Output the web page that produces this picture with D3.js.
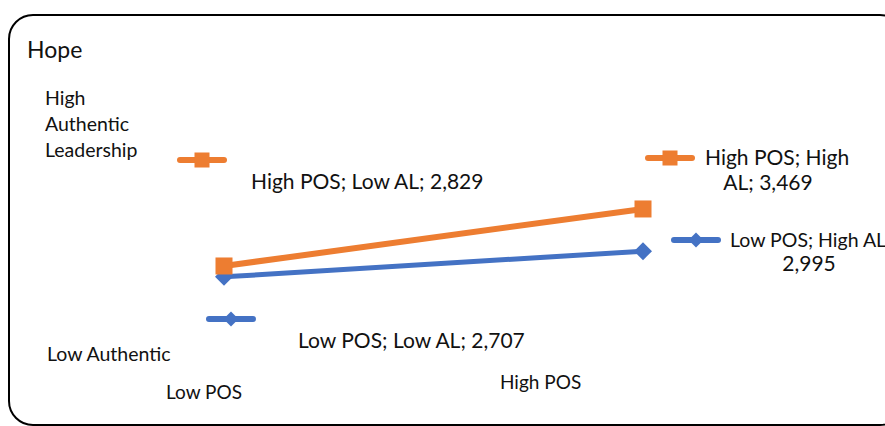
<!DOCTYPE html>
<html>
<head>
<meta charset="utf-8">
<script src="https://cdn.jsdelivr.net/npm/d3@7"></script>
<style>
  html, body { margin: 0; padding: 0; background: #fff; }
  svg { display: block; }
  text { font-family: Lato, "Open Sans", sans-serif; fill: #111; }
</style>
</head>
<body>
<div id="chart"></div>
<script>
// Hope scores by perceived organisational support (POS) and authentic leadership (AL)
const groups = ["Low POS", "High POS"];
const highAL = [2.829, 3.469];   // orange series
const lowAL = [2.707, 2.995];    // blue series
const highALNames = ["High POS; Low AL", "High POS; High AL"];
const lowALNames = ["Low POS; Low AL", "Low POS; High AL"];
const legendHigh = ["High", "Authentic", "Leadership"];
const legendLow = "Low Authentic";
const title = "Hope";

const W = 885, H = 426;
const ORANGE = "#ED7D31", BLUE = "#4472C4";
const fmt = v => d3.format(".3f")(v).replace(".", ",");

const svg = d3.select("#chart").append("svg")
  .attr("width", W).attr("height", H);

// frame
svg.append("rect")
  .attr("x", 9).attr("y", 15).attr("width", 895).attr("height", 410)
  .attr("rx", 24).attr("ry", 24)
  .attr("fill", "#fff").attr("stroke", "#000").attr("stroke-width", 2);

const x = d3.scalePoint().domain(groups).range([224, 643]);
const y = d3.scaleLinear().domain([2.4, 3.6]).range([304.2, 197.3]);

const line = d3.line().x((d, i) => x(groups[i])).y(d => y(d));

const diamond = (s) => `M0,${-s}L${s},0L0,${s}L${-s},0Z`;

// low AL series (drawn first, sits beneath)
svg.append("path").datum(lowAL)
  .attr("d", line).attr("fill", "none")
  .attr("stroke", BLUE).attr("stroke-width", 5);
svg.selectAll(".pt-low").data(lowAL).join("path")
  .attr("class", "pt-low")
  .attr("transform", (d, i) => `translate(${x(groups[i])},${y(d)})`)
  .attr("d", diamond(9)).attr("fill", BLUE);

// high AL series
svg.append("path").datum(highAL)
  .attr("d", line).attr("fill", "none")
  .attr("stroke", ORANGE).attr("stroke-width", 6);
svg.selectAll(".pt-high").data(highAL).join("rect")
  .attr("class", "pt-high")
  .attr("x", (d, i) => x(groups[i]) - 8.5).attr("y", d => y(d) - 8.5)
  .attr("width", 17).attr("height", 17).attr("fill", ORANGE);

// label key glyphs: short line with marker
function keyGlyph(cx, cy, color, shape) {
  const g = svg.append("g").attr("transform", `translate(${cx},${cy})`);
  g.append("line").attr("x1", -22).attr("x2", 22)
    .attr("stroke", color).attr("stroke-width", 6).attr("stroke-linecap", "round");
  if (shape === "square") {
    g.append("rect").attr("x", -7.5).attr("y", -7.5).attr("width", 15).attr("height", 15).attr("fill", color);
  } else {
    g.append("path").attr("d", diamond(7.5)).attr("fill", color);
  }
}

// data labels
keyGlyph(202, 160, ORANGE, "square");
svg.append("text").attr("x", 251).attr("y", 189).attr("font-size", 21)
  .text(`${highALNames[0]}; ${fmt(highAL[0])}`);

keyGlyph(670, 158, ORANGE, "square");
svg.append("text").attr("x", 705).attr("y", 165).attr("font-size", 21)
  .text(`${highALNames[1].replace(/ AL$/, "")}`);
svg.append("text").attr("x", 768).attr("y", 190).attr("font-size", 21)
  .attr("text-anchor", "middle").text(`AL; ${fmt(highAL[1])}`);

keyGlyph(696, 240, BLUE, "diamond");
svg.append("text").attr("x", 730).attr("y", 247).attr("font-size", 19.5)
  .text(lowALNames[1]);
svg.append("text").attr("x", 809).attr("y", 271).attr("font-size", 21)
  .attr("text-anchor", "middle").text(fmt(lowAL[1]));

keyGlyph(231, 319, BLUE, "diamond");
svg.append("text").attr("x", 298).attr("y", 348).attr("font-size", 21)
  .text(`${lowALNames[0]}; ${fmt(lowAL[0])}`);

// title and series captions
svg.append("text").attr("x", 27).attr("y", 58).attr("font-size", 23).text(title);
svg.append("text").attr("x", 45).attr("font-size", 19.5)
  .selectAll("tspan").data(legendHigh).join("tspan")
  .attr("x", 45).attr("y", (d, i) => 105 + i * 26).text(d => d);
svg.append("text").attr("x", 47).attr("y", 361).attr("font-size", 19.5).text(legendLow);

// category captions
svg.append("text").attr("x", 166).attr("y", 399).attr("font-size", 19).text(groups[0]);
svg.append("text").attr("x", 500).attr("y", 389).attr("font-size", 19).text(groups[1]);
</script>
</body>
</html>
